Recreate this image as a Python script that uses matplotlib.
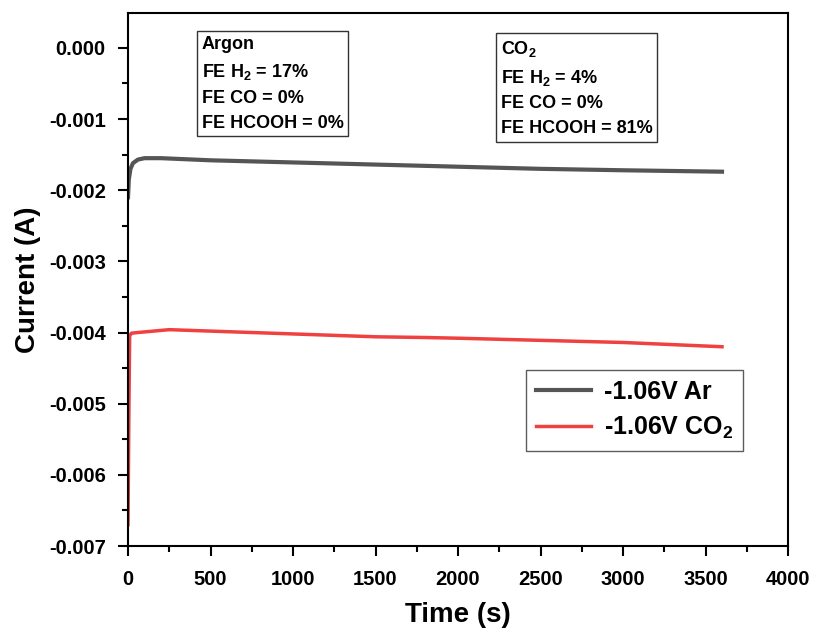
import matplotlib
matplotlib.use('Agg')
import matplotlib.pyplot as plt
from matplotlib.ticker import MultipleLocator, FormatStrFormatter

plt.rcParams['font.family'] = ['Liberation Sans', 'DejaVu Sans']
plt.rcParams['font.weight'] = 'bold'
plt.rcParams['mathtext.fontset'] = 'custom'
plt.rcParams['mathtext.rm'] = 'Liberation Sans:bold'
plt.rcParams['mathtext.bf'] = 'Liberation Sans:bold'
plt.rcParams['mathtext.default'] = 'bf'

# chronoamperometry traces
time_ar = [0, 5, 15, 30, 60, 100, 200, 500, 1000, 1500, 2000, 2500, 3000, 3600]
current_ar = [-0.00210, -0.00185, -0.00170, -0.00162, -0.00157, -0.00155, -0.00155,
              -0.00158, -0.00161, -0.00164, -0.00167, -0.00170, -0.00172, -0.00174]

time_co2 = [0, 5, 10, 20, 60, 250, 500, 1000, 1500, 1800, 2000, 2500, 3000, 3600]
current_co2 = [-0.00670, -0.00520, -0.00405, -0.00401, -0.00400, -0.00396, -0.00398,
               -0.00402, -0.00406, -0.00407, -0.00408, -0.00411, -0.00414, -0.00420]

labels = ['-1.06V Ar', '-1.06V CO$_2$']
argon_text = 'Argon\nFE H$_2$ = 17%\nFE CO = 0%\nFE HCOOH = 0%'
co2_text = 'CO$_2$\nFE H$_2$ = 4%\nFE CO = 0%\nFE HCOOH = 81%'

fig = plt.figure(figsize=(8.17, 6.33), dpi=100)
ax = fig.add_axes([128 / 817, 87 / 633, 660 / 817, 533 / 633])

ax.plot(time_ar, current_ar, color='#555555', lw=3, label=labels[0])
ax.plot(time_co2, current_co2, color='#f04040', lw=2.5, label=labels[1])

ax.set_xlim(0, 4000)
ax.set_ylim(-0.007, 0.00049)
ax.xaxis.set_major_locator(MultipleLocator(500))
ax.xaxis.set_minor_locator(MultipleLocator(250))
ax.yaxis.set_major_locator(MultipleLocator(0.001))
ax.yaxis.set_minor_locator(MultipleLocator(0.0005))
ax.yaxis.set_major_formatter(FormatStrFormatter('%.3f'))
ax.tick_params(which='major', direction='out', length=7, width=1.5, labelsize=14.5, pad=9)
ax.tick_params(axis='x', which='major', pad=10)
ax.tick_params(which='minor', direction='out', length=4, width=1.5)
for s in ax.spines.values():
    s.set_linewidth(1.5)

ax.set_xlabel('Time (s)', fontsize=20, fontweight='bold', labelpad=10)
ax.set_ylabel('Current (A)', fontsize=20, fontweight='bold', labelpad=6)

box = dict(facecolor='white', edgecolor='#333333', lw=1, boxstyle='square,pad=0.25')
ax.text(0.112, 0.957, argon_text, transform=ax.transAxes, fontsize=13, fontweight='bold',
        va='top', ha='left', linespacing=1.6, bbox=box)
ax.text(0.565, 0.952, co2_text, transform=ax.transAxes, fontsize=13, fontweight='bold',
        va='top', ha='left', linespacing=1.6, bbox=box)

leg = ax.legend(loc='lower right', bbox_to_anchor=(0.932, 0.178), fontsize=18,
                frameon=True, fancybox=False, edgecolor='#333333', handlelength=2.2,
                borderpad=0.4, labelspacing=0.45, handletextpad=0.5, borderaxespad=0)
leg.get_frame().set_linewidth(1)
for t in leg.get_texts():
    t.set_fontweight('bold')

fig.savefig('out.png', dpi=100)
